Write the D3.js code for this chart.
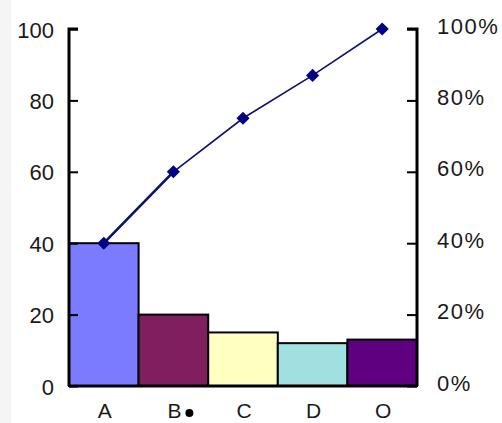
<!DOCTYPE html>
<html>
<head>
<meta charset="utf-8">
<script src="https://cdn.jsdelivr.net/npm/d3@7"></script>
<style>
  html, body { margin: 0; padding: 0; background: #ffffff; }
  svg { display: block; }
  text { font-family: "Liberation Sans", Arial, sans-serif; fill: #1a1a1a; }
</style>
</head>
<body>
<svg id="chart" width="502" height="423"></svg>
<script>
// Pareto chart: counts per category with cumulative percentage line
const categories = ["A", "B", "C", "D", "O"];
const counts = [40, 20, 15, 12, 13];
const barColors = ["#7b7bff", "#7f1f5f", "#ffffc2", "#a0e0e0", "#5f0080"];
const leftTicks = [0, 20, 40, 60, 80, 100];
const rightTicks = [0, 0.2, 0.4, 0.6, 0.8, 1.0];

const total = d3.sum(counts);
const cumulative = d3.cumsum(counts).map(v => v / total);

const svg = d3.select("#chart");
const W = 502, H = 423;
const m = { left: 69, right: 417, top: 29, bottom: 386 };

// faint grey strip along the left edge
svg.append("rect").attr("x", 0).attr("y", 0).attr("width", 11).attr("height", H).attr("fill", "#f5f5f5");

const x = d3.scaleBand().domain(categories).range([m.left, m.right]).padding(0);
const y = d3.scaleLinear().domain([0, 100]).range([m.bottom, m.top]);
const yPct = d3.scaleLinear().domain([0, 1]).range([m.bottom, m.top]);

// bars
svg.append("g").selectAll("rect").data(categories).join("rect")
  .attr("x", d => x(d))
  .attr("y", (d, i) => y(counts[i]))
  .attr("width", x.bandwidth())
  .attr("height", (d, i) => y(0) - y(counts[i]))
  .attr("fill", (d, i) => barColors[i])
  .attr("stroke", "#000")
  .attr("stroke-width", 2);

// left axis (ticks point inward)
const leftAxis = svg.append("g").attr("transform", `translate(${m.left},0)`)
  .call(d3.axisRight(y).tickValues(leftTicks).tickSize(9).tickFormat(""));
leftAxis.select(".domain").attr("stroke", "#000").attr("stroke-width", 3).attr("d", `M9,${m.top}H0V${m.bottom}`);
leftAxis.selectAll(".tick line").attr("stroke", "#000").attr("stroke-width", 2);

svg.append("g").selectAll("text").data(leftTicks).join("text")
  .attr("x", 54).attr("y", d => y(d) + 1)
  .attr("text-anchor", "end").attr("dominant-baseline", "central")
  .attr("font-size", 22).text(d => d);

// right axis (ticks point inward)
const rightAxis = svg.append("g").attr("transform", `translate(${m.right},0)`)
  .call(d3.axisLeft(yPct).tickValues(rightTicks).tickSize(10).tickFormat(""));
rightAxis.select(".domain").attr("stroke", "#000").attr("stroke-width", 3).attr("d", `M-10,${m.top}H0V${m.bottom}`);
rightAxis.selectAll(".tick line").attr("stroke", "#000").attr("stroke-width", 2);

svg.append("g").selectAll("text").data(rightTicks).join("text")
  .attr("x", 437).attr("y", d => yPct(d) - 3)
  .attr("text-anchor", "start").attr("dominant-baseline", "central")
  .attr("font-size", 22).attr("letter-spacing", 1.5)
  .text(d => d3.format(".0%")(d));

// baseline
svg.append("line").attr("x1", m.left).attr("x2", m.right)
  .attr("y1", m.bottom).attr("y2", m.bottom)
  .attr("stroke", "#000").attr("stroke-width", 3);

// category labels
svg.append("g").selectAll("text").data(categories).join("text")
  .attr("x", d => x(d) + x.bandwidth() / 2 + 1).attr("y", 418)
  .attr("text-anchor", "middle").attr("font-size", 21).text(d => d);

// small dot beside the B label
svg.append("circle").attr("cx", x("B") + x.bandwidth() / 2 + 16).attr("cy", 413).attr("r", 4).attr("fill", "#000");

// cumulative percentage line
const pts = categories.map((c, i) => [x(c) + x.bandwidth() / 2, yPct(cumulative[i])]);
const line = d3.line();
svg.append("path").attr("d", line(pts)).attr("fill", "none").attr("stroke", "#10106e").attr("stroke-width", 1.6);
svg.append("path").attr("d", line(pts.slice(0, 2))).attr("fill", "none").attr("stroke", "#10106e").attr("stroke-width", 2.6);

svg.append("g").selectAll("path").data(pts).join("path")
  .attr("d", d3.symbol(d3.symbolDiamond2, 110))
  .attr("transform", d => `translate(${d[0]},${d[1]})`)
  .attr("fill", "#000080");
</script>
</body>
</html>
